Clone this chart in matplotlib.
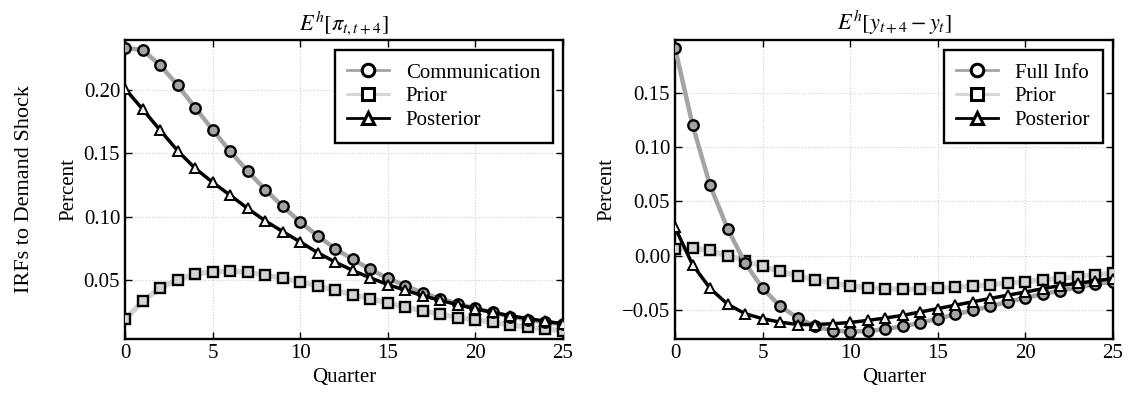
import matplotlib
matplotlib.use("Agg")
import matplotlib.pyplot as plt
from matplotlib.lines import Line2D

plt.rcParams['font.family'] = ['Liberation Serif', 'DejaVu Serif']
plt.rcParams['mathtext.fontset'] = 'stix'
plt.rcParams['font.size'] = 15

quarters = list(range(26))

# Left panel: E^h[pi_{t,t+4}]
infl_comm = [0.2332, 0.2314, 0.2196, 0.2037, 0.1861, 0.1686, 0.1516, 0.1359, 0.1215,
             0.1082, 0.0960, 0.0849, 0.0749, 0.0664, 0.0585, 0.0516, 0.0458, 0.0400,
             0.0355, 0.0315, 0.0278, 0.0246, 0.0214, 0.0188, 0.0169, 0.0153]
infl_prior = [0.0193, 0.0333, 0.0439, 0.0505, 0.0550, 0.0566, 0.0571, 0.0563, 0.0542,
              0.0516, 0.0487, 0.0455, 0.0421, 0.0386, 0.0355, 0.0320, 0.0288, 0.0259,
              0.0233, 0.0206, 0.0188, 0.0169, 0.0148, 0.0130, 0.0116, 0.0101]
infl_post = [0.2010, 0.1848, 0.1683, 0.1521, 0.1382, 0.1272, 0.1170, 0.1066, 0.0968,
             0.0884, 0.0802, 0.0717, 0.0643, 0.0577, 0.0519, 0.0466, 0.0421, 0.0378,
             0.0341, 0.0307, 0.0275, 0.0246, 0.0220, 0.0198, 0.0177, 0.0156]

# Right panel: E^h[y_{t+4} - y_t]
out_full = [0.1922, 0.1209, 0.0650, 0.0250, -0.0069, -0.0303, -0.0469, -0.0575, -0.0656,
            -0.0694, -0.0703, -0.0700, -0.0678, -0.0656, -0.0622, -0.0584, -0.0544, -0.0506,
            -0.0469, -0.0428, -0.0391, -0.0356, -0.0325, -0.0294, -0.0263, -0.0241]
out_prior = [0.0063, 0.0072, 0.0047, 0.0000, -0.0047, -0.0100, -0.0147, -0.0188, -0.0225,
             -0.0256, -0.0281, -0.0297, -0.0306, -0.0313, -0.0309, -0.0303, -0.0294, -0.0281,
             -0.0269, -0.0256, -0.0241, -0.0225, -0.0209, -0.0194, -0.0178, -0.0163]
out_post = [0.0260, -0.0084, -0.0303, -0.0450, -0.0538, -0.0584, -0.0616, -0.0638, -0.0638,
            -0.0631, -0.0619, -0.0600, -0.0578, -0.0553, -0.0522, -0.0491, -0.0459, -0.0428,
            -0.0397, -0.0366, -0.0338, -0.0306, -0.0278, -0.0256, -0.0234, -0.0213]

left_labels = ['Communication', 'Prior', 'Posterior']
right_labels = ['Full Info', 'Prior', 'Posterior']
titles = [r'$E^h[\pi_{t,t+4}]$', r'$E^h[y_{t+4}-y_t]$']
xticks = [0, 5, 10, 15, 20, 25]

C_DARK = '#a4a4a4'
C_LIGHT = '#d4d4d4'

fig = plt.figure(figsize=(11.28, 3.99), dpi=100)
ax1 = fig.add_axes([125/1128, 1-339/399, (563-125)/1128, (339-40)/399])
ax2 = fig.add_axes([675/1128, 1-339/399, (1113-675)/1128, (339-40)/399])


def draw(ax, s1, s2, s3, labels, title, ylim, yticks):
    ax.plot(quarters, s2, color=C_LIGHT, lw=3.8, zorder=2)
    ax.plot(quarters, s2, ls='none', marker='s', ms=7.5, mfc=C_LIGHT, mec='black', mew=1.7, zorder=3)
    ax.plot(quarters, s1, color=C_DARK, lw=3.2, zorder=4)
    ax.plot(quarters, s1, ls='none', marker='o', ms=7.5, mfc=C_DARK, mec='black', mew=1.7, zorder=5)
    ax.plot(quarters, s3, color='black', lw=2.5, zorder=6)
    ax.plot(quarters, s3, ls='none', marker='^', ms=6.5, mfc='#f2f2f2', mec='black', mew=1.4, zorder=7)
    ax.set_xlim(0, 25)
    ax.set_ylim(*ylim)
    ax.set_xticks(xticks)
    ax.set_yticks(yticks)
    ax.set_yticklabels(['%.2f' % v if v >= 0 else '\u2212%.2f' % abs(v) for v in yticks])
    ax.grid(True, ls=':', color='#cfcfcf', lw=0.8)
    ax.set_axisbelow(True)
    ax.tick_params(direction='in', top=True, right=True, length=5, width=1, labelsize=15)
    for sp in ax.spines.values():
        sp.set_linewidth(1.7)
    ax.set_xlabel('Quarter', fontsize=15)
    ax.set_ylabel('Percent', fontsize=15)
    ax.set_title(title, fontsize=16, pad=7)
    handles = [
        Line2D([], [], color=C_DARK, lw=2, marker='o', ms=9, mfc='white', mec='black', mew=2.2),
        Line2D([], [], color=C_LIGHT, lw=2, marker='s', ms=9, mfc='white', mec='black', mew=2.2),
        Line2D([], [], color='black', lw=2, marker='^', ms=9, mfc='white', mec='black', mew=2.2),
    ]
    leg = ax.legend(handles, labels, loc='upper right', fontsize=15, frameon=True,
                    fancybox=False, edgecolor='black', framealpha=1, borderaxespad=0.5,
                    handlelength=2.0, labelspacing=0.2, borderpad=0.6)
    leg.get_frame().set_linewidth(1.7)


draw(ax1, infl_comm, infl_prior, infl_post, left_labels, titles[0],
     (0.0037, 0.2393), [0.05, 0.10, 0.15, 0.20])
draw(ax2, out_full, out_prior, out_post, right_labels, titles[1],
     (-0.0772, 0.1994), [-0.05, 0.00, 0.05, 0.10, 0.15])

fig.text(25/1128, 1-189.5/399, 'IRFs to Demand Shock', rotation=90, ha='center', va='center', fontsize=16)

fig.savefig('out.png', dpi=100)
